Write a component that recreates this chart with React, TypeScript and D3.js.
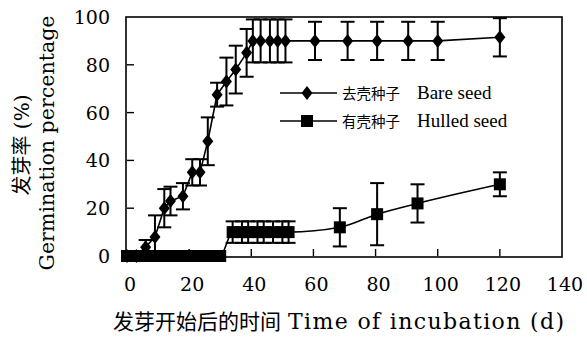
import React from 'react';
import * as d3 from 'd3';

// bare (dehulled) seeds: day, germination %, error
const bareDays = [0, 3, 6, 9, 12, 14, 18, 21, 23.5, 26, 29, 32, 35, 38.5, 40.5, 43, 46, 48.5, 51, 60.5, 71, 80.5, 90.5, 100, 120];
const bareVals = [0, 0, 3.7, 8, 20, 23, 25, 35, 35, 48, 67.5, 73, 78, 85, 90, 90, 90, 90, 90, 90, 90, 90, 90, 90, 91.5];
const bareErr = [0, 0, 3, 9, 8, 6, 5.5, 5.5, 5.5, 10, 5, 10, 10, 10, 9, 9, 9, 9, 9, 8, 8, 8, 8, 8, 8];

// hulled seeds
const hulledDays = [0, 2, 4, 6, 8, 10, 12, 14, 16, 18, 20, 22, 24, 26, 28, 30, 34, 37, 39, 42, 44, 47, 50, 52, 68.5, 80.5, 93.5, 120];
const hulledVals = [0, 0, 0, 0, 0, 0, 0, 0, 0, 0, 0, 0, 0, 0, 0, 0, 10, 10, 10, 10, 10, 10, 10, 10, 12, 17.5, 22, 30];
const hulledErr = [0, 0, 0, 0, 0, 0, 0, 0, 0, 0, 0, 0, 0, 0, 0, 0, 4.5, 4.5, 4.5, 4.5, 4.5, 4.5, 4.5, 4.5, 8, 13, 8, 5];

const xTicks = [0, 20, 40, 60, 80, 100, 120, 140];
const yTicks = [0, 20, 40, 60, 80, 100];

const W = 587;
const H = 340;
const serif = 'DejaVu Serif, serif';
const cjk = '"Noto Sans CJK SC", sans-serif';

export default function App() {
  const x = d3.scaleLinear().domain([0, 140]).range([127, 562]);
  const y = d3.scaleLinear().domain([0, 100]).range([256, 17]);

  const bare = bareDays.map((d, i) => ({ d, v: bareVals[i], e: bareErr[i] }));
  const hulled = hulledDays.map((d, i) => ({ d, v: hulledVals[i], e: hulledErr[i] }));

  const bareLine = d3.line<any>().x(p => x(p.d)).y(p => y(p.v));
  const hulledLine = d3.line<any>().x(p => x(p.d)).y(p => y(p.v)).curve(d3.curveMonotoneX);

  const [x0, x1] = x.range();
  const [y0, y1] = y.range();

  const diamond = (cx: number, cy: number) =>
    `M${cx},${cy - 7}L${cx + 5.5},${cy}L${cx},${cy + 7}L${cx - 5.5},${cy}Z`;

  const errBars = (pts: any[], key: string) =>
    pts.filter(p => p.e > 0).map((p, i) => (
      <g key={key + i} stroke="#000" strokeWidth={2}>
        <line x1={x(p.d)} x2={x(p.d)} y1={y(p.v - p.e)} y2={y(p.v + p.e)} />
        <line x1={x(p.d) - 7} x2={x(p.d) + 7} y1={y(p.v + p.e)} y2={y(p.v + p.e)} />
        <line x1={x(p.d) - 7} x2={x(p.d) + 7} y1={y(p.v - p.e)} y2={y(p.v - p.e)} />
      </g>
    ));

  return (
    <svg width={W} height={H} style={{ position: 'absolute', left: 0, top: 0, background: '#fff' }}>
      <rect x={0} y={0} width={W} height={H} fill="#fff" />
      {/* frame */}
      <rect x={x0 - 1} y={y1} width={x1 - x0 + 1} height={y0 - y1 + 1} fill="none" stroke="#000" strokeWidth={1.6} />
      {/* ticks, inside */}
      {yTicks.slice(1, -1).map(t => (
        <line key={'yt' + t} x1={x0} x2={x0 + 7} y1={y(t)} y2={y(t)} stroke="#000" strokeWidth={1.4} />
      ))}
      {xTicks.slice(1, -1).map(t => (
        <line key={'xt' + t} x1={x(t)} x2={x(t)} y1={y0} y2={y0 - 7} stroke="#000" strokeWidth={1.4} />
      ))}
      {/* tick labels */}
      {yTicks.map(t => (
        <text key={'yl' + t} x={110} y={y(t) + 7} textAnchor="end" fontFamily={serif} fontSize={19}>{t}</text>
      ))}
      {xTicks.map(t => (
        <text key={'xl' + t} x={x(t) + 3} y={291} textAnchor="middle" fontFamily={serif} fontSize={19}>{t}</text>
      ))}

      {/* series */}
      <path d={bareLine(bare) || ''} fill="none" stroke="#000" strokeWidth={1.6} />
      <path d={hulledLine(hulled) || ''} fill="none" stroke="#000" strokeWidth={1.6} />
      {errBars(bare, 'be')}
      {errBars(hulled, 'he')}
      {bare.map((p, i) => (
        <path key={'bd' + i} d={diamond(x(p.d), y(p.v))} fill="#000" />
      ))}
      {hulled.map((p, i) => (
        <rect key={'hs' + i} x={x(p.d) - 6} y={y(p.v) - 6} width={12} height={12} fill="#000" />
      ))}

      {/* legend */}
      <g>
        <line x1={280} x2={337} y1={93} y2={93} stroke="#000" strokeWidth={1.6} />
        <path d={diamond(307, 93)} fill="#000" />
        <text x={342} y={99} fontFamily={cjk} fontSize={14.5}>去壳种子</text>
        <text x={417} y={99} fontFamily="Liberation Serif, serif" fontSize={19}>Bare seed</text>
        <line x1={280} x2={337} y1={121} y2={121} stroke="#000" strokeWidth={1.6} />
        <rect x={301} y={115} width={12} height={12} fill="#000" />
        <text x={342} y={127} fontFamily={cjk} fontSize={14.5}>有壳种子</text>
        <text x={417} y={127} fontFamily="Liberation Serif, serif" fontSize={19}>Hulled seed</text>
      </g>

      {/* axis titles */}
      <text x={113} y={329} fontFamily={cjk} fontSize={21}>发芽开始后的时间</text>
      <text x={288} y={329} fontFamily={serif} fontSize={22} textLength={276} lengthAdjust="spacing">
        Time of incubation (d)
      </text>
      <text transform="translate(54,143) rotate(-90)" textAnchor="middle" fontFamily={serif} fontSize={20.5}
        textLength={255} lengthAdjust="spacing">
        Germination percentage
      </text>
      <text transform="translate(29,145) rotate(-90)" textAnchor="middle" fontSize={20}>
        <tspan fontFamily={cjk}>发芽率</tspan>
        <tspan fontFamily={serif}> (%)</tspan>
      </text>
    </svg>
  );
}
